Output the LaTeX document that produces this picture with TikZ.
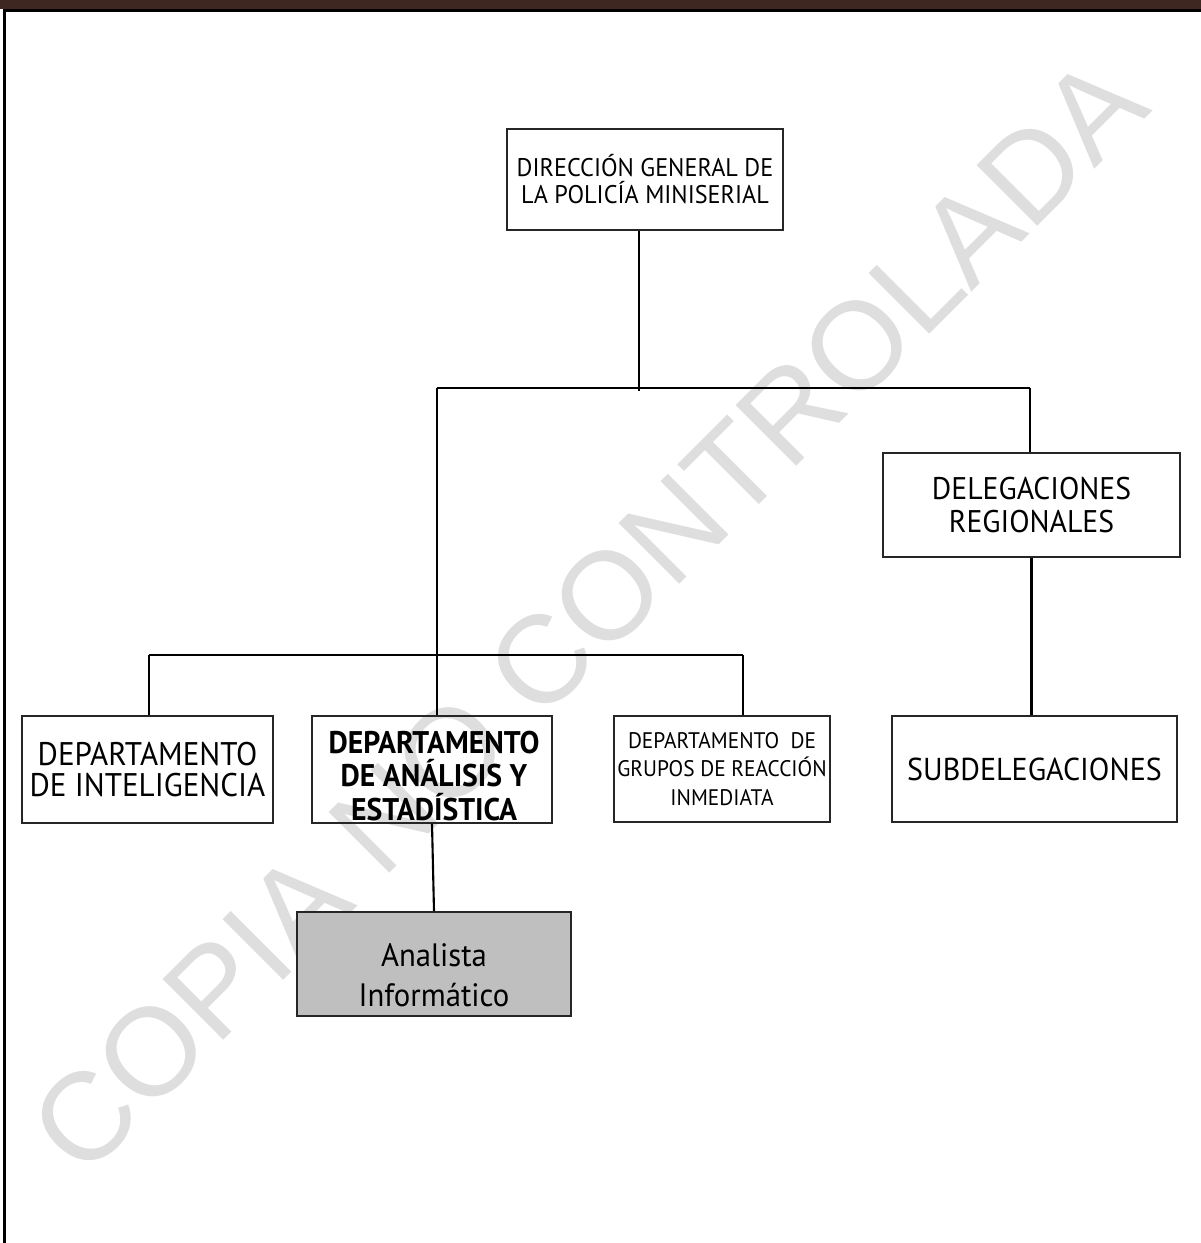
\documentclass[tikz,border=0pt]{standalone}
\usepackage{fontspec}
\setmainfont[FakeStretch=0.95]{PT Sans}
\newfontfamily\wmfont{Liberation Sans}
\usetikzlibrary{positioning,calc}
\definecolor{bandbrown}{HTML}{3E2720}
\definecolor{boxgray}{HTML}{BFBFBF}
\newcommand{\fsz}[2]{\fontsize{#1}{#2}\selectfont}

\begin{document}
\begin{tikzpicture}[
    x=0.01cm, y=-0.01cm,
    unit/.style={rectangle, draw=black!85, line width=0.45pt, align=center, inner sep=0pt},
    link/.style={line width=0.6pt},
    bus/.style={line width=0.85pt}
  ]
    \useasboundingbox (0,0) rectangle (1201,1243);
    \node[rotate=45, text=black!13, font=\wmfont\fsz{35.5}{35.5}] (mark) at (588,615) {COPIA NO CONTROLADA};

    \fill[bandbrown] (0,0) rectangle (1201,9);
    \draw[line width=0.9pt] (4.5,1243) -- (4.5,10.5) -- (1201,10.5);

    \node[unit, minimum width=2.76cm, minimum height=1.01cm, font=\fsz{7.25}{7.7}] (dir) at (645,179.5) {DIRECCIÓN GENERAL DE\\LA POLICÍA MINISERIAL};
    \node[unit, minimum width=2.97cm, minimum height=1.04cm, font=\fsz{8.9}{9.4}] (deleg) at (1031.5,505) {DELEGACIONES\\REGIONALES};
    \node[unit, minimum width=2.85cm, minimum height=1.06cm, font=\fsz{9}{9}] (subdel) at (1034.5,769) {SUBDELEGACIONES};
    \node[unit, minimum width=2.51cm, minimum height=1.07cm, font=\fsz{9.3}{8.9}] (intel) at (147.5,769.5) {DEPARTAMENTO\\DE INTELIGENCIA};
    \node[unit, minimum width=2.40cm, minimum height=1.07cm] (anal) at (432,769.5) {};
    \node[font=\bfseries\fsz{8.9}{9.4}, align=center, inner sep=0pt] (analtxt) at (434,776) {DEPARTAMENTO\\DE ANÁLISIS Y\\ESTADÍSTICA};
    \node[unit, minimum width=2.16cm, minimum height=1.06cm, font=\fsz{6.4}{8}] (grupos) at (722,769) {DEPARTAMENTO\ \ DE\\GRUPOS DE REACCIÓN\\INMEDIATA};
    \node[unit, fill=boxgray, minimum width=2.74cm, minimum height=1.04cm] (analista) at (434,964) {};
    \node[font=\fsz{9.2}{11.4}, align=center, inner sep=0pt] (analistatxt) at (434,975) {Analista\\Informático};

    \coordinate (top) at (639,391);
    \coordinate (b1w) at (437,388);
    \coordinate (b1e) at (1030,388);
    \coordinate (b2w) at (149,655);
    \coordinate (b2e) at (743,655);

    \draw[link] (dir.south -| top) -- (top);
    \draw[bus] (b1w) -- (b1e);
    \draw[link] (b1w) -- (b1w |- anal.north);
    \draw[link] (b1e) -- (b1e |- deleg.north);
    \draw[link] (deleg.south) -- (deleg.south |- subdel.north);
    \draw[link] (b2w) -- (b2e);
    \draw[link] (b2w) -- (b2w |- intel.north);
    \draw[link] (b2e) -- (b2e |- grupos.north);
    \draw[link] (anal.south) -- (analista.north);
  \end{tikzpicture}
\end{document}
